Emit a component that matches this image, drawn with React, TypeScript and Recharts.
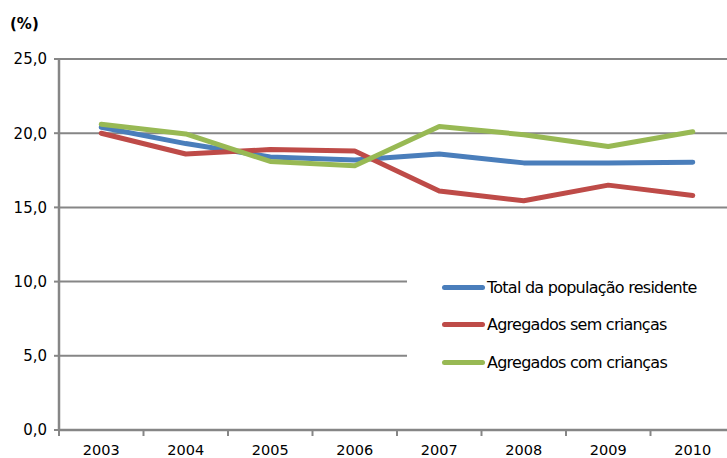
import { LineChart, Line, XAxis, YAxis, CartesianGrid } from 'recharts'

const years = ['2003', '2004', '2005', '2006', '2007', '2008', '2009', '2010']
const totalPop = [20.4, 19.3, 18.4, 18.2, 18.6, 18.0, 18.0, 18.05]
const semCriancas = [20.0, 18.6, 18.9, 18.8, 16.1, 15.45, 16.5, 15.8]
const comCriancas = [20.6, 19.95, 18.1, 17.8, 20.45, 19.9, 19.1, 20.1]
const yTicks = [0, 5, 10, 15, 20, 25]

const series = [
  { key: 'total', name: 'Total da população residente', color: '#4A7EBB', values: totalPop },
  { key: 'sem', name: 'Agregados sem crianças', color: '#BE4B48', values: semCriancas },
  { key: 'com', name: 'Agregados com crianças', color: '#98B954', values: comCriancas },
]

const data = years.map((year, i) => {
  const row: Record<string, string | number> = { year }
  series.forEach((s) => {
    row[s.key] = s.values[i]
  })
  return row
})

const CHART_W = 740
const CHART_H = 458
const Y_AXIS_W = 59
const MARGIN = { top: 59, right: 5, left: 0, bottom: 0 }
const BAND = (CHART_W - Y_AXIS_W - MARGIN.left - MARGIN.right) / years.length
const AXIS_COLOR = '#868686'
const FONT = '"DejaVu Sans", Verdana, sans-serif'

const YearTick = ({ x, y, payload }: { x?: number; y?: number; payload?: { value: string } }) => {
  const cx = x ?? 0
  const cy = y ?? 0
  return (
    <g>
      <line x1={cx - BAND / 2} x2={cx - BAND / 2} y1={cy} y2={cy + 6} stroke={AXIS_COLOR} strokeWidth={2} />
      <text x={cx} y={cy + 25} textAnchor="middle" fontSize={14.5} fill="#000" fontFamily={FONT}>
        {payload?.value}
      </text>
    </g>
  )
}

export default function App() {
  return (
    <div style={{ position: 'absolute', left: 0, top: 0, width: 727, height: 458, overflow: 'hidden', background: '#fff' }}>
      <div style={{ position: 'absolute', left: 10, top: 15, fontFamily: FONT, fontWeight: 'bold', fontSize: 15 }}>
        (%)
      </div>
      <LineChart width={CHART_W} height={CHART_H} data={data} margin={MARGIN}>
        <CartesianGrid vertical={false} stroke={AXIS_COLOR} strokeWidth={2} />
        <XAxis
          dataKey="year"
          height={CHART_H - 430}
          padding={{ left: BAND / 2, right: BAND / 2 }}
          tickSize={0}
          tickMargin={0}
          tickLine={false}
          axisLine={{ stroke: AXIS_COLOR, strokeWidth: 2.5 }}
          tick={<YearTick />}
          interval={0}
        />
        <YAxis
          width={Y_AXIS_W}
          domain={[0, 25]}
          ticks={yTicks}
          interval={0}
          tickSize={5}
          tickMargin={7}
          axisLine={{ stroke: AXIS_COLOR, strokeWidth: 2.5 }}
          tickLine={{ stroke: AXIS_COLOR, strokeWidth: 2 }}
          tick={{ fontSize: 15, fill: '#000', fontFamily: FONT }}
          tickFormatter={(v: number) => v.toFixed(1).replace('.', ',')}
        />
        {series.map((s) => (
          <Line
            key={s.key}
            dataKey={s.key}
            name={s.name}
            type="linear"
            stroke={s.color}
            strokeWidth={5}
            strokeLinecap="round"
            strokeLinejoin="round"
            dot={false}
            activeDot={false}
            isAnimationActive={false}
          />
        ))}
      </LineChart>
      <div
        style={{
          position: 'absolute',
          left: 407,
          top: 266,
          width: 330,
          height: 110,
          background: '#fff',
          fontFamily: FONT,
          fontSize: 16,
          letterSpacing: -0.75,
        }}
      >
        {series.map((s, i) => (
          <div key={s.key} style={{ position: 'absolute', left: 35, top: 10 + i * 37.5, display: 'flex', alignItems: 'center', height: 22 }}>
            <div style={{ width: 43, height: 5, borderRadius: 3, background: s.color, marginRight: 2 }} />
            <span>{s.name}</span>
          </div>
        ))}
      </div>
    </div>
  )
}
